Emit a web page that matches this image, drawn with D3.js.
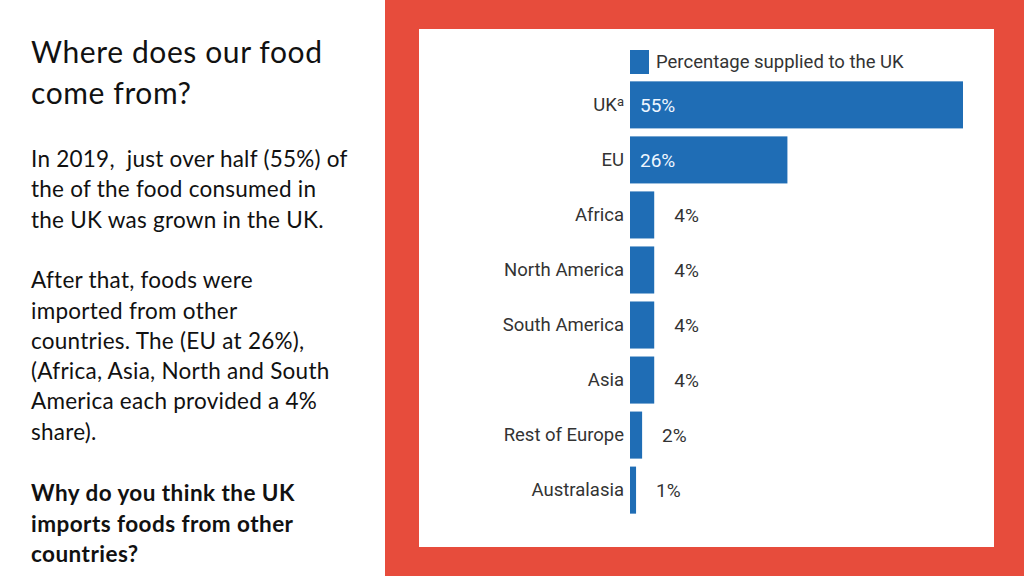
<!DOCTYPE html>
<html>
<head>
<meta charset="utf-8">
<script src="https://cdn.jsdelivr.net/npm/d3@7"></script>
<style>
  html, body { margin: 0; padding: 0; background: #fff; }
  svg { display: block; }
  text { white-space: pre; }
</style>
</head>
<body>
<svg id="c" width="1024" height="576"></svg>
<script>
// ---- data ----
const categories = ["UK", "EU", "Africa", "North America", "South America", "Asia", "Rest of Europe", "Australasia"];
const values = [55, 26, 4, 4, 4, 4, 2, 1];
const valueLabels = ["55%", "26%", "4%", "4%", "4%", "4%", "2%", "1%"];
const seriesName = "Percentage supplied to the UK";

const titleLines = ["Where does our food", "come from?"];
const bodyLines = [
  "In 2019,  just over half (55%) of",
  "the of the food consumed in",
  "the UK was grown in the UK.",
  "",
  "After that, foods were",
  "imported from other",
  "countries. The (EU at 26%),",
  "(Africa, Asia, North and South",
  "America each provided a 4%",
  "share)."
];
const questionLines = ["Why do you think the UK", "imports foods from other", "countries?"];

// ---- layout ----
const svg = d3.select("#c");
const blue = "#1f6db5";

// left text panel
const leftFont = "Lato, 'Open Sans', sans-serif";
const tg = svg.append("g").attr("font-family", leftFont).attr("fill", "#111");
tg.selectAll("text.title").data(titleLines).join("text")
  .attr("class", "title")
  .attr("x", 31).attr("y", (d, i) => 63 + i * 40.5)
  .attr("font-size", 30)
  .attr("letter-spacing", 0.6)
  .text(d => d);
tg.selectAll("text.body").data(bodyLines).join("text")
  .attr("class", "body")
  .attr("x", 31).attr("y", (d, i) => 167 + i * 30.3)
  .attr("font-size", 22.5)
  .attr("letter-spacing", 0.25)
  .text(d => d);
tg.selectAll("text.q").data(questionLines).join("text")
  .attr("class", "q")
  .attr("x", 31).attr("y", (d, i) => 501 + i * 30.5)
  .attr("font-size", 22.5)
  .attr("letter-spacing", 0.45)
  .attr("font-weight", "bold")
  .text(d => d);

// red panel + white card
svg.append("rect").attr("x", 385).attr("y", 0).attr("width", 639).attr("height", 576).attr("fill", "#e74c3c");
svg.append("rect").attr("x", 419).attr("y", 29).attr("width", 575).attr("height", 518).attr("fill", "#fff");

// chart
const x0 = 630;
const x = d3.scaleLinear().domain([0, 55]).range([x0, 963]);
const y = d3.scaleBand().domain(categories).range([77.5, 517.5]).paddingInner(0.145).paddingOuter(0.07);

const cf = "Roboto, 'Noto Sans', sans-serif";
const fs = 18.5;
const chart = svg.append("g").attr("font-family", cf).attr("font-size", fs);

// legend
chart.append("rect").attr("x", x0).attr("y", 50).attr("width", 19).attr("height", 24).attr("fill", blue);
chart.append("text").attr("x", 656).attr("y", 62).attr("dy", "0.35em").attr("fill", "#333").text(seriesName);

// bars
chart.selectAll("rect.bar").data(values).join("rect")
  .attr("class", "bar")
  .attr("x", x0)
  .attr("y", (d, i) => y(categories[i]))
  .attr("width", d => x(d) - x0)
  .attr("height", y.bandwidth())
  .attr("fill", blue);

// category axis
const yAxis = d3.axisLeft(y).tickSize(0).tickPadding(6);
const ag = chart.append("g").attr("transform", `translate(${x0},0)`).call(yAxis);
ag.select(".domain").remove();
ag.selectAll("text").attr("font-family", cf).attr("font-size", fs).attr("fill", "#333")
  .each(function (d) {
    if (d === "UK") {
      const t = d3.select(this);
      t.text("UK");
      t.append("tspan").attr("dy", "-0.35em").attr("font-size", 13).text("a");
    }
  });

// value labels
chart.selectAll("text.val").data(values).join("text")
  .attr("class", "val")
  .attr("x", (d, i) => d > 10 ? x0 + 10 : x(d) + 20)
  .attr("y", (d, i) => y(categories[i]) + y.bandwidth() / 2)
  .attr("dy", "0.35em")
  .attr("font-size", 19)
  .attr("fill", d => d > 10 ? "#eef6ff" : "#333")
  .text((d, i) => valueLabels[i]);
</script>
</body>
</html>
